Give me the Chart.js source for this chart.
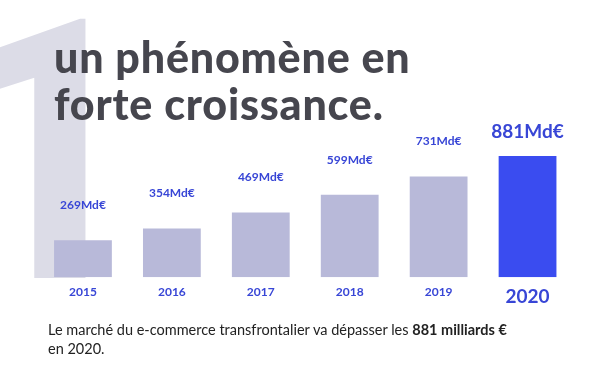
<!DOCTYPE html>
<html lang="fr">
<head>
<meta charset="utf-8">
<script src="https://cdn.jsdelivr.net/npm/chart.js@4"></script>
<style>
  html, body { margin: 0; padding: 0; background: #fff; }
  #page { position: relative; width: 599px; height: 378px; overflow: hidden; }
  #grosUn {
    position: absolute; left: -57px; top: -28px; z-index: 0;
    font-family: Roboto, sans-serif; font-weight: 700; font-size: 364px;
    line-height: 1; color: #dcdce7;
  }
  #graf { position: absolute; left: 0; top: 0; z-index: 1; }
  #titulo {
    position: absolute; left: 54px; top: 33px; z-index: 2; margin: 0;
    font-family: Lato, sans-serif; font-weight: 900; font-size: 43px;
    line-height: 47px; color: #46464e; letter-spacing: 0.8px;
  }
  #rodape {
    position: absolute; left: 48px; top: 320px; z-index: 2; margin: 0;
    font-family: Lato, sans-serif; font-size: 14.5px; line-height: 19px; color: #222;
  }
</style>
</head>
<body>
<div id="page">
  <div id="grosUn">1</div>
  <canvas id="graf" width="599" height="378"></canvas>
  <h1 id="titulo">un phénomène en<br>forte croissance.</h1>
  <p id="rodape">Le marché du e-commerce transfrontalier va dépasser les <b>881 milliards €</b><br>en 2020.</p>
</div>
<script>
const anos = ["2015", "2016", "2017", "2018", "2019", "2020"];
const valores = [269, 354, 469, 599, 731, 881];
const rotulos = ["269Md€", "354Md€", "469Md€", "599Md€", "731Md€", "881Md€"];

const corBarra = "#b8b9d9";
const corDestaque = "#3a4cf0";
const corTexto = "#3846d6";
const ultimo = valores.length - 1;

// rótulos de valor acima das barras
const rotulosPlugin = {
  id: "rotulos",
  afterDatasetsDraw(chart) {
    const ctx = chart.ctx;
    const meta = chart.getDatasetMeta(0);
    ctx.save();
    ctx.textAlign = "center";
    ctx.textBaseline = "middle";
    ctx.fillStyle = corTexto;
    meta.data.forEach((bar, i) => {
      const grande = i === ultimo;
      ctx.font = grande ? "bold 19px Lato" : "bold 12px Lato";
      ctx.fillText(rotulos[i], bar.x, bar.y - (grande ? 24 : 35));
    });
    ctx.restore();
  }
};

const ctx = document.getElementById("graf").getContext("2d");
new Chart(ctx, {
  type: "bar",
  data: {
    labels: anos,
    datasets: [{
      data: valores,
      backgroundColor: (c) => (c.dataIndex === ultimo ? corDestaque : corBarra),
      borderWidth: 0,
      categoryPercentage: 1,
      barPercentage: 0.65
    }]
  },
  options: {
    responsive: false,
    animation: false,
    devicePixelRatio: 1,
    layout: { padding: { left: 38.5, right: 27, top: 139.5, bottom: 62 } },
    plugins: { legend: { display: false }, tooltip: { enabled: false } },
    scales: {
      x: {
        grid: { display: false, drawTicks: false },
        border: { display: false },
        ticks: {
          padding: 8,
          color: corTexto,
          font: (c) => (c.index === ultimo
            ? { family: "Lato", weight: "bold", size: 19 }
            : { family: "Lato", weight: "bold", size: 12 })
        }
      },
      y: { display: false, min: 0, max: 1000 }
    }
  },
  plugins: [rotulosPlugin]
});
</script>
</body>
</html>
